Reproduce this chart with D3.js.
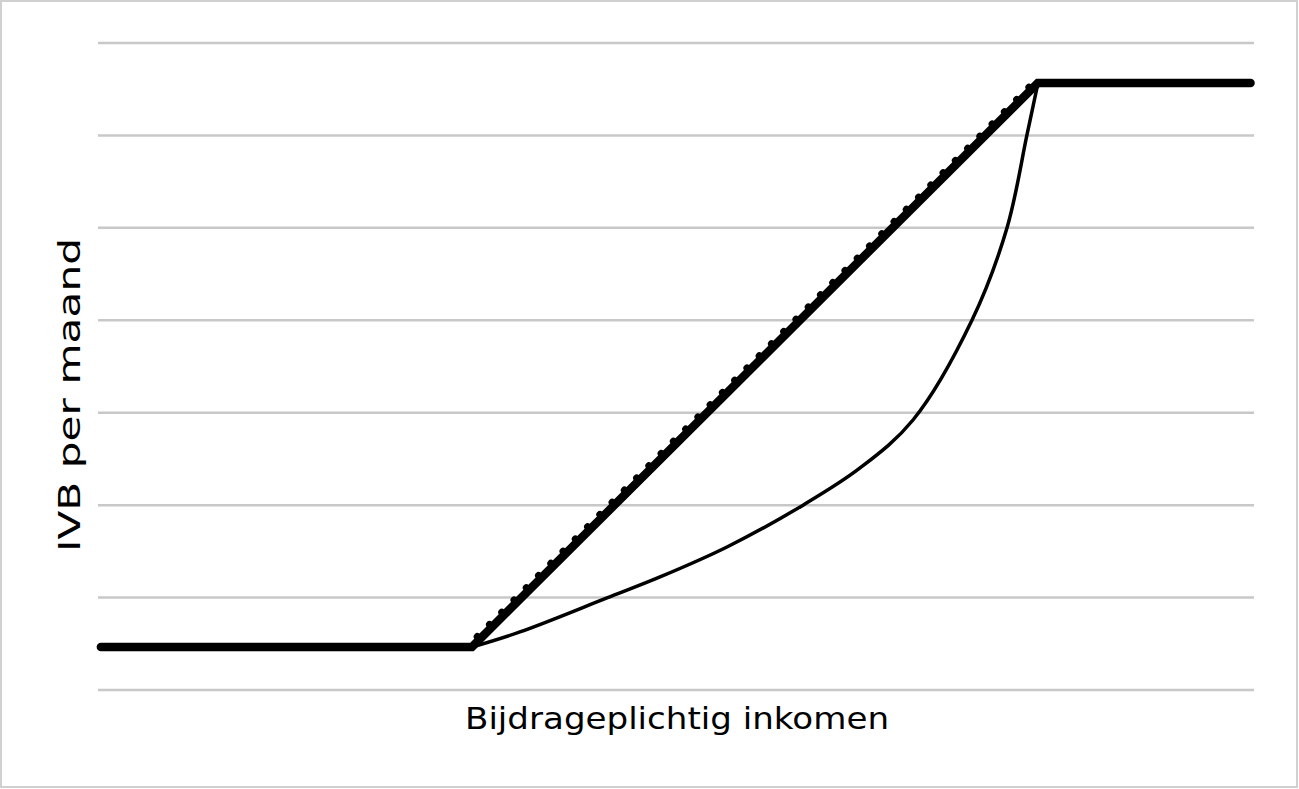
<!DOCTYPE html>
<html>
<head>
<meta charset="utf-8">
<script src="https://cdn.jsdelivr.net/npm/d3@7"></script>
<style>
  body { margin: 0; background: #fff; }
  text { font-family: "DejaVu Sans", Verdana, sans-serif; fill: #000; }
</style>
</head>
<body>
<script>
// values (abstract units: income 0-100, IVB 0-7)
var gridValues = [0, 1, 2, 3, 4, 5, 6, 7];

// thick solid line (maximum contribution path)
var solidX = [0.25, 32.35, 81.3, 99.7];
var solidY = [0.465, 0.465, 6.567, 6.567];

// round-dot series lying on top of it, starting a touch earlier
var dotX = [0.25, 31.9, 80.9, 99.7];
var dotY = [0.465, 0.465, 6.567, 6.567];

// thin curved line
var curveX = [32.35, 36.5, 44.03, 48.62, 54.41, 60.99, 65.92, 70.5, 75.61, 78.63, 80.36, 81.31];
var curveY = [0.465, 0.628, 0.996, 1.223, 1.547, 2.0, 2.402, 2.921, 4.003, 4.998, 6.005, 6.567];

var xTitle = "Bijdrageplichtig inkomen";
var yTitle = "IVB per maand";

var width = 1299, height = 789;

var svg = d3.select("body")
    .append("svg")
    .attr("width", width)
    .attr("height", height);

// outer border
svg.append("rect")
    .attr("x", 1)
    .attr("y", 1)
    .attr("width", width - 3)
    .attr("height", height - 3)
    .attr("fill", "#fff")
    .attr("stroke", "#d0d0d0")
    .attr("stroke-width", 2);

var x = d3.scaleLinear()
    .domain([0, 100])
    .range([98, 1254]);

var y = d3.scaleLinear()
    .domain([0, 7])
    .range([690, 43]);

// gridlines
svg.append("g")
    .selectAll("line")
    .data(gridValues)
    .enter()
    .append("line")
    .attr("x1", x(0))
    .attr("x2", x(100))
    .attr("y1", function(d) { return y(d); })
    .attr("y2", function(d) { return y(d); })
    .attr("stroke", "#c8c8c8")
    .attr("stroke-width", 2.5);

function zip(xs, ys) {
    return xs.map(function(v, i) { return [v, ys[i]]; });
}

var line = d3.line()
    .x(function(d) { return x(d[0]); })
    .y(function(d) { return y(d[1]); });

var smooth = d3.line()
    .x(function(d) { return x(d[0]); })
    .y(function(d) { return y(d[1]); })
    .curve(d3.curveCatmullRom.alpha(0.5));

// thin curve
svg.append("path")
    .attr("d", smooth(zip(curveX, curveY)))
    .attr("fill", "none")
    .attr("stroke", "#000")
    .attr("stroke-width", 3.5);

// thick solid
svg.append("path")
    .attr("d", line(zip(solidX, solidY)))
    .attr("fill", "none")
    .attr("stroke", "#000")
    .attr("stroke-width", 8.5)
    .attr("stroke-linecap", "round");

// round dots
svg.append("path")
    .attr("d", line(zip(dotX, dotY)))
    .attr("fill", "none")
    .attr("stroke", "#000")
    .attr("stroke-width", 7)
    .attr("stroke-linecap", "round")
    .attr("stroke-dasharray", "0.1 17.2");

// axis titles
svg.append("text")
    .attr("x", 677)
    .attr("y", 729)
    .attr("text-anchor", "middle")
    .attr("textLength", 424)
    .attr("lengthAdjust", "spacingAndGlyphs")
    .style("font-size", "30px")
    .text(xTitle);

svg.append("text")
    .attr("transform", "translate(80,395) rotate(-90)")
    .attr("text-anchor", "middle")
    .attr("textLength", 314)
    .attr("lengthAdjust", "spacingAndGlyphs")
    .style("font-size", "30px")
    .text(yTitle);
</script>
</body>
</html>
